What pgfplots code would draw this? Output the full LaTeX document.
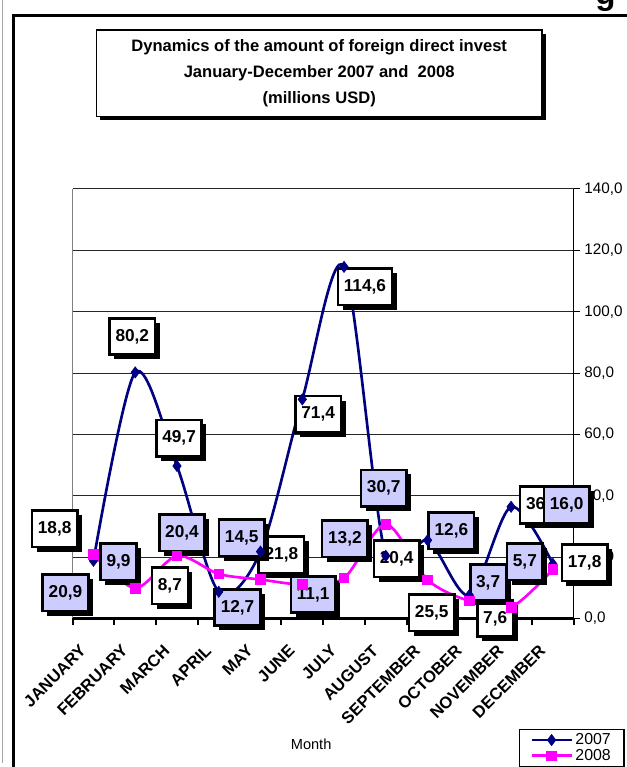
\documentclass[border=0pt]{standalone}
\usepackage{fontspec}
\setmainfont{Liberation Sans}
\usepackage{pgfplots}
\pgfplotsset{compat=1.18}
\usetikzlibrary{shadows}

\definecolor{navy07}{RGB}{0,0,128}
\definecolor{mag08}{RGB}{255,0,255}
\definecolor{lav}{RGB}{204,204,255}

\tikzset{
  lbl/.style={draw=black, line width=2pt, fill=white,
    font=\bfseries\fontsize{13}{15}\selectfont,
    minimum height=27.5pt, inner xsep=4.5pt,
    drop shadow={shadow xshift=3.5pt, shadow yshift=-3.5pt, fill=black, opacity=1}},
  lblB/.style={lbl, fill=lav},
}

\begin{document}
\begin{tikzpicture}
\begin{scope}[x=0.75pt,y=0.75pt]
  \path[use as bounding box] (0,0) rectangle (630,767);
  \draw[gray!70, line width=0.75pt] (3,0) -- (3,767);
  \draw[black, line width=2.5pt] (13.5,-30) -- (13.5,751.5) -- (660,751.5);
  \node[font=\bfseries\fontsize{25}{25}\selectfont, anchor=base] at (609,762) {g};
  \node[draw=black, line width=1pt, fill=white, minimum width=336pt, minimum height=65pt,
        align=center, font=\bfseries\fontsize{12.5}{19.5}\selectfont,
        drop shadow={shadow xshift=3pt, shadow yshift=-3pt, fill=black, opacity=1}]
        at (321,693.5) {Dynamics of the amount of foreign direct invest\\
        January-December 2007 and\ \ 2008\\(millions USD)};
\end{scope}

\begin{axis}[
  at={(54.75pt,108.75pt)}, anchor=south west,
  scale only axis, width=378pt, height=324pt,
  xmin=-0.5, xmax=11.5, ymin=0, ymax=140,
  clip=false,
  axis x line*=bottom, axis y line*=right,
  x axis line style={line width=2.25pt, -},
  y axis line style={line width=1pt, -},
  tick align=outside,
  xtick={0,...,11},
  xticklabels={JANUARY,FEBRUARY,MARCH,APRIL,MAY,JUNE,JULY,AUGUST,SEPTEMBER,OCTOBER,NOVEMBER,DECEMBER},
  major x tick style={draw=none},
  minor xtick={-0.5,0.5,...,11.5},
  minor x tick style={black, line width=1.5pt},
  minor tick length=5pt,
  ytick={0,20,...,140},
  major tick length=4.5pt,
  y tick style={black, line width=0.75pt},
  ymajorgrids=true,
  major grid style={black!85, line width=0.75pt},
  x tick label style={xshift=-11pt, yshift=-13pt, rotate=45, anchor=north east, inner sep=1pt,
    font=\bfseries\fontsize{12.5}{12.5}\selectfont},
  y tick label style={font=\fontsize{11.5}{12}\selectfont},
  yticklabel style={/pgf/number format/.cd, fixed, fixed zerofill, precision=1,
    use comma, 1000 sep={}, assume math mode=true},
  xlabel={Month},
  x label style={at={(axis description cs:0.476,-0.292)}, anchor=center,
    font=\fontsize{11}{12}\selectfont},
  legend style={at={(axis description cs:0.891,-0.257)}, anchor=north west,
    draw=black, line width=1pt, font=\fontsize{12}{12}\selectfont,
    inner xsep=8pt, inner ysep=1pt, row sep=-2pt, cells={anchor=west}},
  legend image code/.code={\draw[mark repeat=2, mark phase=2]
    plot coordinates {(0pt,0pt) (15pt,0pt) (30pt,0pt)};},
]

\draw[gray, line width=1pt] (rel axis cs:0,0) -- (rel axis cs:0,1);

\addplot[navy07, line width=2pt, smooth, mark=diamond*,
  mark options={solid, line width=0.5pt}, mark size=4.2pt]
  coordinates {
    (0,18.8)(1,80.2)(2,49.7)(3,8.7)(4,21.8)(5,71.4)
    (6,114.6)(7,20.4)(8,25.5)(9,7.6)(10,36.4)(11,17.8)
  };
\addlegendentry{2007}

\addplot[mag08, line width=2pt, smooth, mark=square*,
  mark options={solid, line width=0.5pt}, mark size=3.6pt]
  coordinates {
    (0,20.9)(1,9.9)(2,20.4)(3,14.5)(4,12.7)(5,11.1)
    (6,13.2)(7,30.7)(8,12.6)(9,5.7)(10,3.7)(11,16.0)
  };
\addlegendentry{2008}

% data labels, 2007
\node[lbl] at (axis cs:-0.93,29.2) {18,8};
\node[lbl] at (axis cs:0.93,91.9) {80,2};
\node[lbl] at (axis cs:2.05,58.8) {49,7};
\node[lbl] at (axis cs:1.83,10.7) {8,7};
\node[lbl] at (axis cs:4.5,20.8) {21,8};
\node[lbl] at (axis cs:5.38,66.6) {71,4};
\node[lbl] at (axis cs:6.5,108.1) {114,6};
\node[lbl] at (axis cs:7.26,19.5) {20,4};
\node[lbl] at (axis cs:8.10,1.9) {25,5};
\node[lbl] at (axis cs:9.62,0) {7,6};
\node[lbl] at (axis cs:10.76,37.0) {36,4};
\node[lbl] at (axis cs:11.76,18.2) {17,8};
% data labels, 2008
\node[lblB] at (axis cs:-0.67,8.4) {20,9};
\node[lblB] at (axis cs:0.60,18.5) {9,9};
\node[lblB] at (axis cs:2.12,27.9) {20,4};
\node[lblB] at (axis cs:3.55,26.3) {14,5};
\node[lblB] at (axis cs:3.45,3.6) {12,7};
\node[lblB] at (axis cs:5.26,7.8) {11,1};
\node[lblB] at (axis cs:6.02,26.0) {13,2};
\node[lblB] at (axis cs:6.95,42.5) {30,7};
\node[lblB] at (axis cs:8.57,28.6) {12,6};
\node[lblB] at (axis cs:9.45,11.7) {3,7};
\node[lblB] at (axis cs:10.33,18.5) {5,7};
\node[lblB] at (axis cs:11.33,37.0) {16,0};

\end{axis}
\end{tikzpicture}
\end{document}
